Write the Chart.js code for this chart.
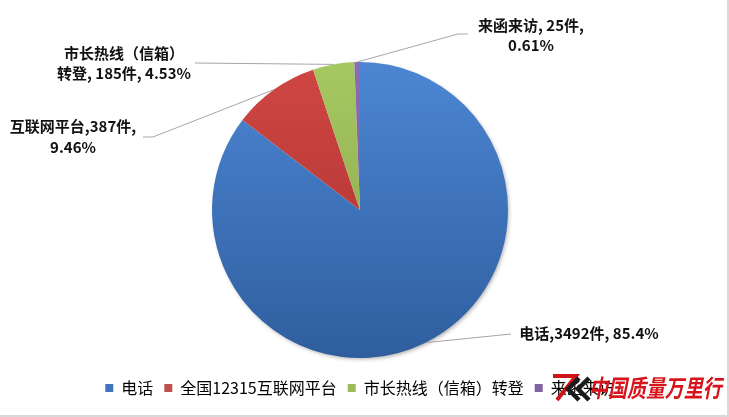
<!DOCTYPE html>
<html>
<head>
<meta charset="utf-8">
<script src="https://cdn.jsdelivr.net/npm/chart.js@4/dist/chart.umd.min.js"></script>
<style>
  html, body { margin: 0; padding: 0; background: #ffffff; }
  canvas { display: block; }
</style>
</head>
<body>
<canvas id="c" width="729" height="417"></canvas>
<script>
// 投诉来源分布
const categories = ['电话', '全国12315互联网平台', '市长热线（信箱）转登', '来函来访'];
const counts = [3492, 387, 185, 25];
const percentLabels = ['85.4%', '9.46%', '4.53%', '0.61%'];
const calloutNames = ['电话', '互联网平台', '市长热线（信箱）转登', '来函来访'];

// slice fills: lighter at the top, darker towards the bottom
const sliceShades = [
  ['#4c86d3', '#2f5e9e'],
  ['#d04744', '#a52f2c'],
  ['#a6c862', '#84a246'],
  ['#8c6db3', '#6b5190']
];
const legendColors = ['#4275bd', '#c0504d', '#9bbb59', '#8064a2'];

const FONT = "'Noto Sans CJK SC', 'DejaVu Sans', sans-serif";
const PIE_RADIUS = 148;

// callout text anchors and leader-line bends
const calloutLayout = [
  { x: 589, ys: [333], bends: [[511, 334]] },
  { x: 73, ys: [126, 147], bends: [[153, 137], [143, 137]] },
  { x: 124, ys: [53, 73], bends: [[195, 63]] },
  { x: 531, ys: [25, 45], bends: [[458, 34], [468, 34]] }
];

function calloutLines(i) {
  const n = calloutNames[i], c = counts[i], p = percentLabels[i];
  if (i === 0) return [n + ',' + c + '件, ' + p];
  if (i === 1) return [n + ',' + c + '件,', p];
  if (i === 2) return [n.slice(0, 8), n.slice(8) + ', ' + c + '件, ' + p];
  return [n + ', ' + c + '件,', p];
}

function sliceFill(context) {
  const chart = context.chart;
  const area = chart.chartArea;
  const shades = sliceShades[context.dataIndex];
  if (!area) return shades[0];
  const cy = (area.top + area.bottom) / 2;
  const g = chart.ctx.createLinearGradient(0, cy - PIE_RADIUS, 0, cy + PIE_RADIUS);
  g.addColorStop(0, shades[0]);
  g.addColorStop(1, shades[1]);
  return g;
}

// soft drop shadow beneath the pie
const pieShadow = {
  id: 'pieShadow',
  beforeDatasetsDraw(chart) {
    const arc = chart.getDatasetMeta(0).data[0];
    if (!arc) return;
    const { x, y, outerRadius } = arc.getProps(['x', 'y', 'outerRadius'], true);
    const ctx = chart.ctx;
    ctx.save();
    ctx.shadowColor = 'rgba(0,0,0,0.35)';
    ctx.shadowBlur = 4;
    ctx.shadowOffsetX = 1.5;
    ctx.shadowOffsetY = 2;
    ctx.fillStyle = '#ffffff';
    ctx.beginPath();
    ctx.arc(x, y, outerRadius - 1, 0, Math.PI * 2);
    ctx.fill();
    ctx.restore();
  }
};

// leader lines and value callouts
const callouts = {
  id: 'callouts',
  afterDatasetsDraw(chart) {
    const ctx = chart.ctx;
    const meta = chart.getDatasetMeta(0);
    meta.data.forEach((arc, i) => {
      const p = arc.getProps(['x', 'y', 'startAngle', 'endAngle', 'outerRadius'], true);
      const mid = (p.startAngle + p.endAngle) / 2;
      const sx = p.x + Math.cos(mid) * p.outerRadius;
      const sy = p.y + Math.sin(mid) * p.outerRadius;
      const lay = calloutLayout[i];
      ctx.save();
      ctx.strokeStyle = '#a6a6a6';
      ctx.lineWidth = 1;
      ctx.beginPath();
      ctx.moveTo(sx, sy);
      lay.bends.forEach(b => ctx.lineTo(b[0], b[1]));
      ctx.stroke();
      ctx.fillStyle = '#111111';
      ctx.font = 'bold 15px ' + FONT;
      ctx.textAlign = 'center';
      ctx.textBaseline = 'middle';
      calloutLines(i).forEach((t, k) => ctx.fillText(t, lay.x, lay.ys[k]));
      ctx.restore();
    });
  }
};

// frame edges and brand mark
const frameAndMark = {
  id: 'frameAndMark',
  afterDraw(chart) {
    const ctx = chart.ctx;
    ctx.save();
    ctx.strokeStyle = '#d9d9d9';
    ctx.lineWidth = 2;
    ctx.beginPath();
    ctx.moveTo(728, 0);
    ctx.lineTo(728, 416);
    ctx.lineTo(0, 416);
    ctx.stroke();

    // logo chevrons
    ctx.lineCap = 'butt';
    ctx.lineJoin = 'miter';
    ctx.strokeStyle = '#d0121b';
    ctx.lineWidth = 4;
    ctx.beginPath();
    ctx.moveTo(553, 376);
    ctx.lineTo(576, 376);
    ctx.lineTo(557, 400);
    ctx.stroke();
    ctx.strokeStyle = '#1b1b1b';
    ctx.lineWidth = 4.5;
    ctx.beginPath();
    ctx.moveTo(579, 378);
    ctx.lineTo(568, 389);
    ctx.lineTo(579, 400);
    ctx.moveTo(589, 378);
    ctx.lineTo(578, 389);
    ctx.lineTo(589, 400);
    ctx.stroke();

    ctx.fillStyle = '#d7141c';
    ctx.font = 'italic bold 24px ' + FONT;
    ctx.textAlign = 'left';
    ctx.textBaseline = 'middle';
    ctx.translate(589, 388);
    ctx.scale(0.79, 1);
    ctx.fillText('中国质量万里行', 0, 0);
    ctx.restore();
  }
};

Chart.defaults.font.family = FONT;

new Chart(document.getElementById('c'), {
  type: 'pie',
  data: {
    labels: categories,
    datasets: [{
      data: counts,
      backgroundColor: sliceFill,
      borderWidth: 0,
      hoverOffset: 0
    }]
  },
  options: {
    responsive: false,
    animation: false,
    devicePixelRatio: 1,
    radius: PIE_RADIUS,
    layout: { padding: { left: 0, right: 9, top: 51, bottom: 11 } },
    plugins: {
      tooltip: { enabled: false },
      legend: {
        position: 'bottom',
        labels: {
          boxWidth: 8,
          boxHeight: 8,
          padding: 11,
          color: '#262626',
          font: { size: 16, family: FONT },
          generateLabels: () => categories.map((t, i) => ({
            text: t,
            fillStyle: legendColors[i],
            strokeStyle: legendColors[i],
            lineWidth: 0,
            hidden: false,
            index: i
          }))
        }
      }
    }
  },
  plugins: [pieShadow, callouts, frameAndMark]
});
</script>
</body>
</html>
